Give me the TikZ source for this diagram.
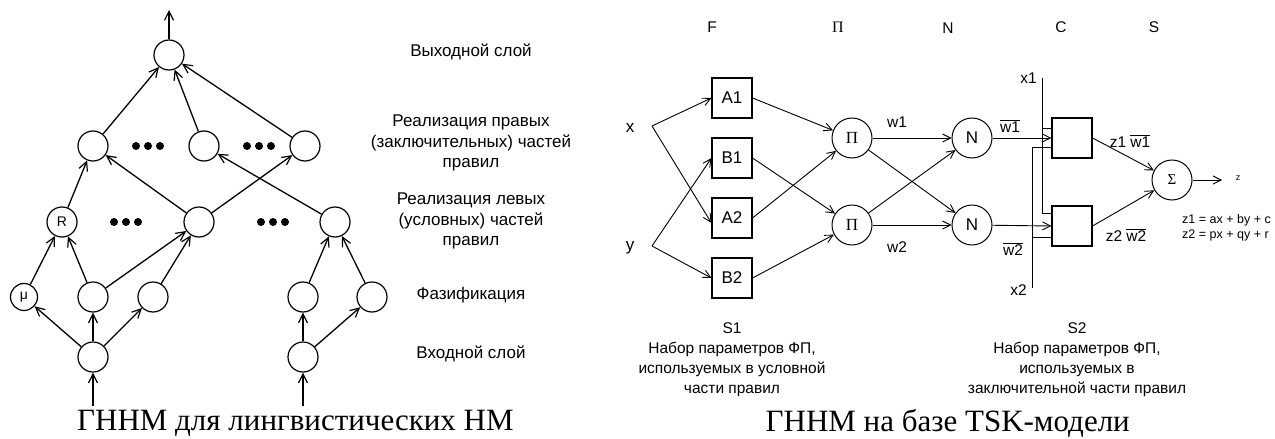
\documentclass[tikz,border=0pt]{standalone}
\usepackage{fontspec}
\setmainfont{Liberation Sans}
\newfontfamily\serifcap{Liberation Serif}
\usetikzlibrary{arrows.meta}
\begin{document}
\begin{tikzpicture}[x=1pt,y=-1pt,
  lw/.style={line width=1.3pt},
  lnode/.style={circle,draw,line width=1.2pt,minimum size=30pt,inner sep=0pt,font=\fontsize{14}{14}\selectfont},
  larr/.style={lw,-{Straight Barb[length=9pt,width=9pt,line width=1.2pt]}},
  lbl/.style={align=center,font=\fontsize{17}{20.5}\selectfont,inner sep=0pt},
  rlbl/.style={font=\fontsize{15.5}{20}\selectfont,inner sep=0pt},
  rbox/.style={draw,line width=1.1pt,minimum size=40pt,inner sep=0pt,font=\fontsize{17}{17}\selectfont},
  rcirc/.style={circle,draw,line width=1pt,minimum size=40pt,inner sep=0pt,font=\fontsize{17}{17}\selectfont},
  rarr/.style={line width=0.9pt,-{Straight Barb[length=8pt,width=8pt,line width=0.9pt]}},
  rline/.style={line width=1pt},
  capt/.style={font=\serifcap\fontsize{31}{31}\selectfont,inner sep=0pt}
]
\useasboundingbox (0,0) rectangle (1275,439);
% ---------------- left diagram ----------------
\node[lnode] (out) at (169,55) {};
\node[lnode] (m1) at (93,146) {};
\node[lnode] (m2) at (204,146) {};
\node[lnode] (m3) at (305,146) {};
\node[lnode] (r1) at (62,222) {R};
\node[lnode] (r2) at (199,222) {};
\node[lnode] (r3) at (335,222) {};
\node[lnode,minimum size=27pt] (f1) at (24,297) {μ};
\node[lnode] (f2) at (93,297) {};
\node[lnode] (f3) at (153,297) {};
\node[lnode] (f4) at (303,297) {};
\node[lnode] (f5) at (372,297) {};
\node[lnode] (i1) at (93,357) {};
\node[lnode] (i2) at (303,357) {};
\coordinate (top) at (169,10);
\coordinate (in1) at (93,406);
\coordinate (in2) at (303,406);
\foreach \cx/\cy in {148/146,259/146,126/222,273/222}
  \foreach \dx in {-12,0,12} \fill (\cx+\dx,\cy) circle (4pt);
\draw[larr] (out) -- (top);
\foreach \a/\b in {m1/out,m2/out,m3/out,r1/m1,r2/m1,r2/m3,r3/m2,f1/r1,f2/r1,f2/r2,f3/r2,f4/r3,f5/r3,i1/f1,i1/f2,i1/f3,i2/f4,i2/f5}
  \draw[larr] (\a) -- (\b);
\draw[larr] (in1) -- (i1);
\draw[larr] (in2) -- (i2);
\node[lbl] (t1) at (471,52) {Выходной слой};
\node[lbl] (t2) at (471,143) {Реализация правых\\(заключительных) частей\\правил};
\node[lbl] (t3) at (471,221) {Реализация левых\\(условных) частей\\правил};
\node[lbl] (t4) at (471,295) {Фазификация};
\node[lbl] (t5) at (471,354) {Входной слой};
\node[capt,anchor=west] (cap1) at (77,423) {ГННМ для лингвистических НМ};
% ---------------- right diagram ----------------
\node[rlbl] (hF) at (712,27) {F};
\node[rlbl,font=\serifcap\fontsize{16}{16}\selectfont] (hP) at (838,27) {Π};
\node[rlbl] (hN) at (948,28) {N};
\node[rlbl] (hC) at (1061,27) {C};
\node[rlbl] (hS) at (1154,27) {S};
\node[rlbl,font=\fontsize{17}{17}\selectfont] (lx) at (630,128) {x};
\node[rlbl,font=\fontsize{17}{17}\selectfont] (ly) at (630,248) {y};
\coordinate (xp) at (652,126);
\coordinate (yp) at (652,246);
\node[rbox] (A1) at (732,98) {A1};
\node[rbox] (B1) at (732,158) {B1};
\node[rbox] (A2) at (732,218) {A2};
\node[rbox] (B2) at (732,278) {B2};
\node[rcirc,font=\serifcap\fontsize{17}{17}\selectfont] (P1) at (852,138) {Π};
\node[rcirc,font=\serifcap\fontsize{17}{17}\selectfont] (P2) at (852,225) {Π};
\node[rcirc] (N1) at (972,138) {N};
\node[rcirc] (N2) at (972,225) {N};
\node[rbox] (C1) at (1072,138) {};
\node[rbox] (C2) at (1072,226) {};
\node[rcirc,font=\serifcap\fontsize{15}{15}\selectfont] (Sg) at (1172,180) {Σ};
\coordinate (zend) at (1222,180);
\node[font=\fontsize{9}{9}\selectfont,inner sep=0pt] (lz) at (1238,178) {z};
\draw[rarr] (xp) -- (A1.west);
\draw[rarr] (xp) -- ([yshift=-5pt]A2.west);
\draw[rarr] (yp) -- (B1.west);
\draw[rarr] (yp) -- (B2.west);
\draw[rarr] (A1.east) -- (P1);
\draw[rarr] (A2.east) -- (P1);
\draw[rarr] (B1.east) -- (P2);
\draw[rarr] (B2.east) -- (P2);
\draw[rarr] (P1) -- (N1);
\draw[rarr] (P1) -- (N2);
\draw[rarr] (P2) -- (N1);
\draw[rarr] (P2) -- (N2);
\draw[rarr] (N1) -- (C1.west);
\draw[rarr] (N2) -- (C2.west);
\draw[rarr] (C1.east) -- (Sg);
\draw[rarr] (C2.east) -- (Sg);
\draw[rarr] (Sg) -- (zend);
\node[rlbl] (lw1) at (897,122) {w1};
\node[rlbl] (lw2) at (897,247) {w2};
\node[rlbl] (lwb1) at (1010,126) {\(\overline{\hbox{w1}}\)};
\node[rlbl] (lwb2) at (1013,249) {\(\overline{\hbox{w2}}\)};
\node[rlbl] (lzw1) at (1130,141) {z1 \(\overline{\hbox{w1}}\)};
\node[rlbl] (lzw2) at (1126,235) {z2 \(\overline{\hbox{w2}}\)};
% x1 / x2 lines
\coordinate (x1t) at (1042,78);
\coordinate (x1b) at (1042,213);
\coordinate (x1a) at (1042,128);
\coordinate (x2b) at (1032,288);
\coordinate (x2t) at (1032,147);
\coordinate (x2a) at (1032,237);
\draw[rline] (x1t) -- (x1b) -- (C2.west |- x1b);
\draw[rline] (x1a) -- (C1.west |- x1a);
\draw[rline] (x2b) -- (x2t) -- (C1.west |- x2t);
\draw[rline] (x2a) -- (C2.west |- x2a);
\node[rlbl,anchor=east] (lx1) at (1037,78) {x1};
\node[rlbl,anchor=east] (lx2) at (1027,290) {x2};
\node[rlbl,anchor=west,align=left,font=\fontsize{12.5}{15}\selectfont] (eq) at (1182,228) {z1 = ax + by + c\\z2 = px + qy + r};
\node[rlbl,align=center] (s1) at (732,360) {S1\\Набор параметров ФП,\\используемых в условной\\части правил};
\node[rlbl,align=center] (s2) at (1077,360) {S2\\Набор параметров ФП,\\используемых в\\заключительной части правил};
\node[capt,anchor=east] (cap2) at (1130,423) {ГННМ на базе TSK-модели};
\end{tikzpicture}
\end{document}
